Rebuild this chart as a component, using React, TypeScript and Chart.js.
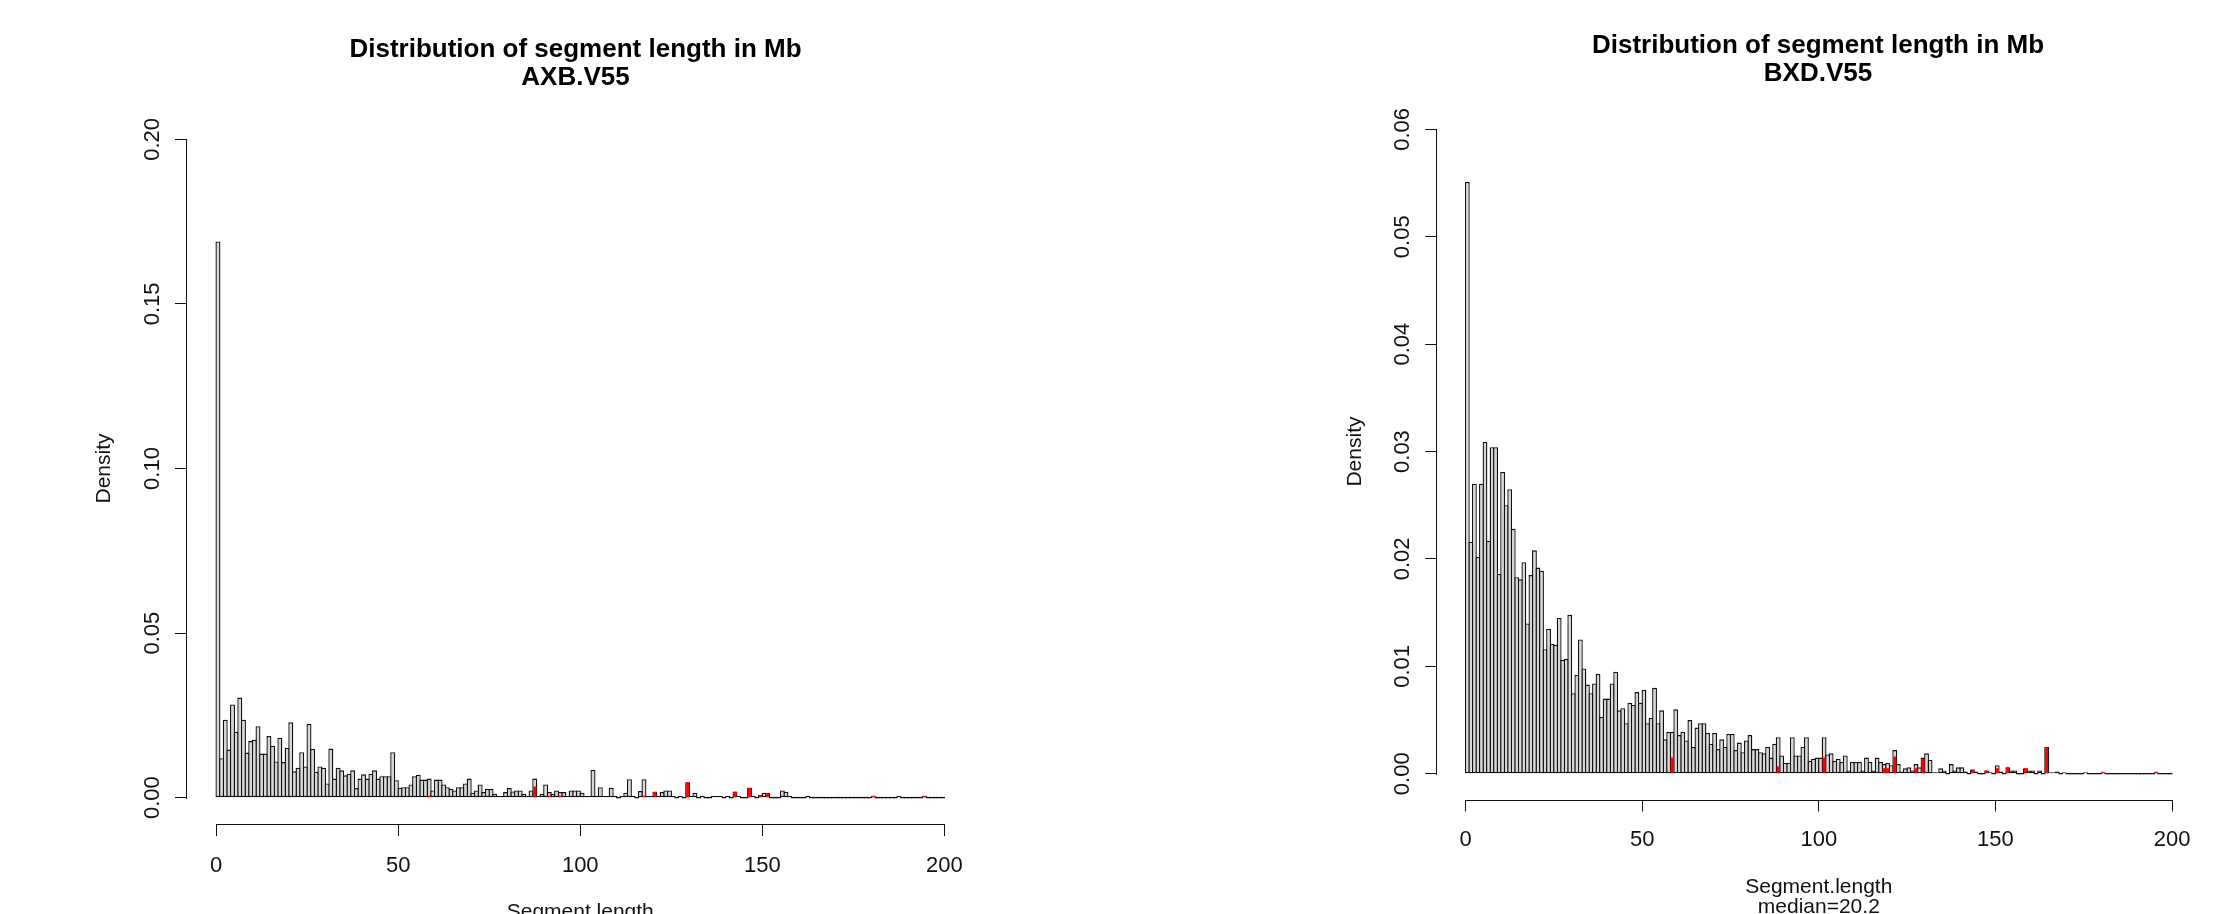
import React, { useEffect, useRef } from 'react';
import { Chart, registerables } from 'chart.js';

Chart.register(...registerables);

// ---------- data ----------
const TITLE_MAIN = 'Distribution of segment length in Mb';
const X_LABEL = 'Segment.length';
const Y_LABEL = 'Density';
const BXD_SUB = 'median=20.2';

// 1 Mb bins, bin starts 0..199
const BINS = Array.from({ length: 200 }, (_, i) => i);

const X_TICKS = [0, 50, 100, 150, 200];
const AXB_Y_TICKS = [0, 0.05, 0.1, 0.15, 0.2];
const BXD_Y_TICKS = [0, 0.01, 0.02, 0.03, 0.04, 0.05, 0.06];

const AXB_DENSITY = [
  0.169, 0.012, 0.0237, 0.0146, 0.0283, 0.020, 0.0304, 0.0237, 0.0137, 0.0172,
  0.0176, 0.0217, 0.0134, 0.0134, 0.0187, 0.0158, 0.011, 0.0182, 0.0108, 0.0152,
  0.0229, 0.008, 0.0091, 0.0138, 0.0095, 0.0224, 0.0148, 0.0079, 0.0095, 0.0091,
  0.0043, 0.0149, 0.0058, 0.0091, 0.0083, 0.0068, 0.0073, 0.0083, 0.0029, 0.0058,
  0.0071, 0.0058, 0.0073, 0.0083, 0.0058, 0.0065, 0.0065, 0.0065, 0.0138, 0.0053,
  0.003, 0.0032, 0.0032, 0.004, 0.0065, 0.007, 0.0055, 0.0055, 0.0058, 0.0022,
  0.0055, 0.0055, 0.004, 0.0032, 0.0027, 0.0022, 0.0032, 0.0032, 0.0043, 0.0058,
  0.0015, 0.0022, 0.004, 0.0017, 0.0027, 0.0027, 0.0012, 0.0004, 0.0004, 0.0017,
  0.0029, 0.0019, 0.0022, 0.0022, 0.0012, 0.0004, 0.0022, 0.0058, 0.0004, 0.0012,
  0.004, 0.0017, 0.0012, 0.0022, 0.0017, 0.0017, 0.0004, 0.0022, 0.0022, 0.0022,
  0.0015, 0.0003, 0.0003, 0.0084, 0.0005, 0.0032, 0.0005, 0.0003, 0.003, 0.0003,
  0, 0.0003, 0.0015, 0.0056, 0.0005, 0, 0.002, 0.0056, 0.0003, 0.0005,
  0.0018, 0.0003, 0.0017, 0.0022, 0.0022, 0.0003, 0, 0.0005, 0, 0.0047,
  0.0003, 0.0015, 0, 0.0005, 0, 0, 0.0004, 0.0004, 0.0004, 0,
  0.0004, 0, 0.0019, 0.0005, 0, 0, 0.003, 0.0003, 0, 0.0008,
  0.0015, 0.0015, 0, 0, 0, 0.0022, 0.0018, 0.0005, 0, 0,
  0, 0, 0.0004, 0, 0, 0, 0, 0, 0, 0,
  0, 0, 0, 0, 0, 0, 0, 0, 0, 0,
  0.0002, 0, 0, 0, 0, 0, 0, 0.0004, 0, 0,
  0, 0, 0, 0, 0.0004, 0, 0, 0, 0, 0,
];

const AXB_RED_BINS = [58, 87, 91, 94, 117, 120, 129, 142, 146, 149, 151, 180, 194];
const AXB_RED_DENSITY = [0.0003, 0.0034, 0.0005, 0.0005, 0.0005, 0.0018, 0.0047, 0.0018, 0.003, 0.0007, 0.0014, 0.0002, 0.0002];

const BXD_DENSITY = [
  0.0551, 0.0216, 0.027, 0.0202, 0.027, 0.0309, 0.0217, 0.0304, 0.0304, 0.0186,
  0.0281, 0.025, 0.0265, 0.0228, 0.0183, 0.0181, 0.0197, 0.014, 0.0185, 0.0208,
  0.0192, 0.0189, 0.0116, 0.0135, 0.0121, 0.012, 0.0145, 0.0106, 0.0107, 0.0148,
  0.0075, 0.0092, 0.0125, 0.0098, 0.0083, 0.0075, 0.0084, 0.0093, 0.0053, 0.007,
  0.007, 0.0084, 0.0095, 0.0059, 0.0061, 0.0047, 0.0066, 0.0064, 0.0076, 0.0066,
  0.0078, 0.0047, 0.0052, 0.008, 0.0047, 0.0059, 0.0032, 0.0039, 0.0039, 0.006,
  0.0036, 0.0039, 0.0031, 0.005, 0.0025, 0.0043, 0.0047, 0.0047, 0.0038, 0.0028,
  0.0038, 0.0023, 0.0032, 0.0025, 0.0037, 0.0037, 0.0022, 0.0029, 0.002, 0.0031,
  0.0036, 0.0023, 0.0023, 0.002, 0.0019, 0.0025, 0.0015, 0.0028, 0.0034, 0.0017,
  0.001, 0.001, 0.0034, 0.0017, 0.0017, 0.0025, 0.0034, 0.0012, 0.0014, 0.0015,
  0.0015, 0.0034, 0.0018, 0.0019, 0.0012, 0.0014, 0.0011, 0.0017, 0.0003, 0.0011,
  0.0011, 0.0011, 0.0003, 0.0015, 0.0011, 0.0003, 0.0015, 0.0011, 0.0009, 0.001,
  0.0008, 0.0022, 0.0009, 0.0002, 0.0005, 0.0006, 0.0003, 0.0009, 0.0006, 0.0015,
  0.0019, 0.0013, 0.0001, 0.0001, 0.0005, 0.0003, 0, 0.0009, 0.0003, 0.0006,
  0.0006, 0.0002, 0, 0.0004, 0.0002, 0, 0, 0.0003, 0.0001, 0,
  0.0008, 0.0002, 0, 0.0006, 0.0003, 0.0003, 0, 0, 0.0005, 0.0003,
  0.0003, 0, 0.0003, 0, 0.0025, 0.0001, 0.0001, 0.0002, 0, 0.0001,
  0, 0, 0, 0, 0, 0.0001, 0, 0, 0, 0,
  0.0001, 0, 0, 0, 0, 0, 0, 0, 0, 0,
  0, 0, 0, 0, 0, 0.0001, 0, 0, 0, 0,
];

const BXD_RED_BINS = [58, 88, 101, 118, 119, 121, 127, 129, 143, 147, 150, 153, 158, 164, 180, 195];
const BXD_RED_DENSITY = [0.0015, 0.0007, 0.0015, 0.0005, 0.0005, 0.0016, 0.0005, 0.0014, 0.0004, 0.0003, 0.0005, 0.0006, 0.0005, 0.0025, 0.0001, 0.0001];

// ---------- styling ----------
const FONT = "'Liberation Sans', Arial, Helvetica, sans-serif";
const INK = '#111111';
const BAR_LINE = '#101010';
const BAR_FILL = '#d6d6d6';
const BAR_BORDER = 1.35;

const rAxisLines = {
  id: 'rAxisLines',
  afterDraw(chart: any) {
    const { ctx, chartArea } = chart;
    const xs = chart.scales.x;
    const ys = chart.scales.y;
    const xt = xs.ticks;
    const yt = ys.ticks;
    ctx.save();
    ctx.strokeStyle = BAR_LINE;
    ctx.lineWidth = 1;
    ctx.beginPath();
    const yb = Math.round(chartArea.bottom) + 0.5;
    ctx.moveTo(Math.round(xs.getPixelForValue(xt[0].value)), yb);
    ctx.lineTo(Math.round(xs.getPixelForValue(xt[xt.length - 1].value)) + 1, yb);
    const xl = Math.round(chartArea.left) - 0.5;
    ctx.moveTo(xl, Math.round(ys.getPixelForValue(yt[0].value)) + 1);
    ctx.lineTo(xl, Math.round(ys.getPixelForValue(yt[yt.length - 1].value)));
    ctx.stroke();
    ctx.restore();
  },
};

type Panel = {
  name: string;
  values: number[];
  redBins: number[];
  redValues: number[];
  yTicks: number[];
  yMin: number;
  yMax: number;
  xTitle: string[];
  pad: { left: number; right: number; top: number; bottom: number };
  titlePad: { top: number; bottom: number };
  padAxisWidth: number;
  xAxisHeight: number;
  xTitleBottom: number;
  xTickPad: number;
  yTitleTop: number;
};

function makeConfig(p: Panel): any {
  const tickFont = { family: FONT, size: 22 };
  const pick = (vals: number[]) => (s: any) => {
    s.ticks = vals.map((v) => ({ value: v }));
  };
  return {
    type: 'bar',
    data: {
      datasets: [
        {
          label: 'highlight',
          data: p.redBins.map((b, i) => ({ x: b + 0.5, y: p.redValues[i] })),
          backgroundColor: '#ff0000',
          borderWidth: 0,
          barPercentage: 0.85,
          categoryPercentage: 1,
          grouped: false,
          minBarLength: 2,
          order: 0,
        },
        {
          label: 'all',
          data: BINS.map((b, i) => ({ x: b + 0.5, y: p.values[i] })),
          backgroundColor: BAR_FILL,
          borderColor: BAR_LINE,
          borderWidth: BAR_BORDER,
          borderSkipped: false,
          barPercentage: 1.37,
          categoryPercentage: 1,
          grouped: false,
          minBarLength: 1.6,
          order: 1,
        },
      ],
    },
    options: {
      responsive: false,
      animation: false,
      events: [],
      layout: { padding: p.pad },
      plugins: {
        legend: { display: false },
        tooltip: { enabled: false },
        title: {
          display: true,
          text: [TITLE_MAIN, p.name],
          color: '#000',
          font: { family: FONT, size: 26, weight: 'bold', lineHeight: '28.5px' },
          padding: p.titlePad,
        },
      },
      scales: {
        x: {
          type: 'linear',
          min: -8,
          max: 208,
          offset: false,
          afterBuildTicks: pick(X_TICKS),
          afterFit: (s: any) => {
            s.height = p.xAxisHeight;
          },
          grid: { offset: false, drawOnChartArea: false, drawTicks: true, tickLength: 12, color: BAR_LINE, lineWidth: 1 },
          border: { display: false },
          ticks: { padding: p.xTickPad, font: tickFont, color: INK, maxRotation: 0, autoSkip: false, callback: (v: any) => String(v) },
          title: {
            display: true,
            text: p.xTitle,
            color: INK,
            font: { family: FONT, size: 21, lineHeight: '20px' },
            padding: { top: 0, bottom: p.xTitleBottom },
          },
        },
        y: {
          type: 'linear',
          position: 'left',
          min: p.yMin,
          max: p.yMax,
          afterBuildTicks: pick(p.yTicks),
          afterFit: (s: any) => {
            s.width = 100;
          },
          grid: { drawOnChartArea: false, drawTicks: true, tickLength: 12, color: BAR_LINE, lineWidth: 1 },
          border: { display: false },
          ticks: {
            padding: 1,
            minRotation: 90,
            maxRotation: 90,
            crossAlign: 'center',
            autoSkip: false,
            font: tickFont,
            color: INK,
            callback: (v: any) => Number(v).toFixed(2),
          },
          title: {
            display: true,
            text: Y_LABEL,
            color: INK,
            font: { family: FONT, size: 21, lineHeight: '20px' },
            padding: { top: p.yTitleTop, bottom: 0 },
          },
        },
        pad: {
          type: 'linear',
          position: 'right',
          display: true,
          grid: { display: false, drawTicks: false },
          border: { display: false },
          ticks: { display: false },
          afterFit: (s: any) => {
            s.width = p.padAxisWidth;
          },
        },
      },
    },
    plugins: [rAxisLines],
  };
}

const AXB: Panel = {
  name: 'AXB.V55',
  values: AXB_DENSITY,
  redBins: AXB_RED_BINS,
  redValues: AXB_RED_DENSITY,
  yTicks: AXB_Y_TICKS,
  yMin: -0.008,
  yMax: 0.208,
  xTitle: [X_LABEL],
  pad: { left: 87, right: 47, top: 0, bottom: 36 },
  titlePad: { top: 35.25, bottom: 20.75 },
  padAxisWidth: 90.5,
  xAxisHeight: 100,
  xTitleBottom: 2,
  xTickPad: 17,
  yTitleTop: 7,
};

const BXD: Panel = {
  name: 'BXD.V55',
  values: BXD_DENSITY,
  redBins: BXD_RED_BINS,
  redValues: BXD_RED_DENSITY,
  yTicks: BXD_Y_TICKS,
  yMin: -0.0024,
  yMax: 0.0624,
  xTitle: [X_LABEL, BXD_SUB],
  pad: { left: 226.3, right: 12.3, top: 0, bottom: 30.5 },
  titlePad: { top: 31.5, bottom: 15.1 },
  padAxisWidth: 98.4,
  xAxisHeight: 130,
  xTitleBottom: 12.5,
  xTickPad: 15.5,
  yTitleTop: 8,
};

function HistPanel({ panel, left, width }: { panel: Panel; left: number; width: number }) {
  const ref = useRef<HTMLCanvasElement | null>(null);
  useEffect(() => {
    if (!ref.current) return;
    const chart = new Chart(ref.current, makeConfig(panel));
    return () => chart.destroy();
  }, [panel]);
  return (
    <canvas
      ref={ref}
      width={width}
      height={960}
      style={{ position: 'absolute', left, top: 0, width, height: 960, display: 'block' }}
    />
  );
}

export default function App() {
  return (
    <div
      style={{
        position: 'fixed',
        left: 0,
        top: 0,
        width: 2222,
        height: 914,
        overflow: 'hidden',
        background: '#ffffff',
      }}
    >
      <HistPanel panel={AXB} left={0} width={1111} />
      <HistPanel panel={BXD} left={1111} width={1200} />
    </div>
  );
}
